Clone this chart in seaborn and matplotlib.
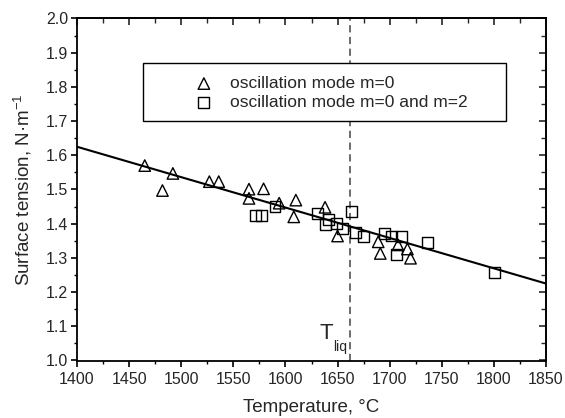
import matplotlib
matplotlib.use("Agg")
import matplotlib.pyplot as plt
import seaborn as sns
import pandas as pd
from matplotlib.ticker import MultipleLocator
from matplotlib.patches import Rectangle

# ---- data ----
tri_T = [1465, 1482, 1492, 1527, 1536, 1565, 1565, 1579, 1594, 1608, 1610,
         1638, 1650, 1689, 1691, 1708, 1717, 1720]
tri_s = [1.570, 1.497, 1.547, 1.523, 1.523, 1.501, 1.474, 1.502, 1.460, 1.420, 1.469,
         1.448, 1.364, 1.347, 1.313, 1.338, 1.326, 1.299]
sq_T = [1571, 1577, 1590, 1631, 1638, 1641, 1649, 1655, 1663, 1667, 1675,
        1695, 1702, 1707, 1711, 1736, 1801]
sq_s = [1.423, 1.425, 1.450, 1.430, 1.399, 1.413, 1.401, 1.386, 1.435, 1.374, 1.362,
        1.372, 1.364, 1.311, 1.362, 1.346, 1.257]
fit_T = [1400, 1850]
fit_s = [1.625, 1.225]
T_liq = 1662
x_ticks = [1400, 1450, 1500, 1550, 1600, 1650, 1700, 1750, 1800, 1850]
y_ticks = [1.0, 1.1, 1.2, 1.3, 1.4, 1.5, 1.6, 1.7, 1.8, 1.9, 2.0]

sns.set_style("white")
plt.rcParams['font.family'] = ['Liberation Sans', 'DejaVu Sans']
plt.rcParams['mathtext.fontset'] = 'custom'
plt.rcParams['mathtext.rm'] = 'Liberation Sans'
plt.rcParams['mathtext.it'] = 'Liberation Sans'

fig = plt.figure(figsize=(5.65, 4.18), dpi=100)
ax = fig.add_axes([77/565, 1 - 360.5/418, 469/565, 342/418])

df_fit = pd.DataFrame({"T": fit_T, "s": fit_s})
sns.lineplot(data=df_fit, x="T", y="s", ax=ax, color="black", lw=1.5, zorder=2)

ax.axvline(T_liq, color="#606060", lw=1.3, ls=(0, (4, 2.5)), zorder=1)

df_tri = pd.DataFrame({"T": tri_T, "s": tri_s})
df_sq = pd.DataFrame({"T": sq_T, "s": sq_s})
sns.scatterplot(data=df_tri, x="T", y="s", ax=ax, marker="^", s=68,
                facecolors="none", edgecolor="black", linewidth=1.0,
                label="oscillation mode m=0", zorder=3)
sns.scatterplot(data=df_sq, x="T", y="s", ax=ax, marker="s", s=62,
                facecolors="none", edgecolor="black", linewidth=1.0,
                label="oscillation mode m=0 and m=2", zorder=3)

ax.set_xlim(1400, 1850)
ax.set_ylim(1.0, 2.0)
ax.set_xticks(x_ticks)
ax.set_yticks(y_ticks)
ax.set_xticklabels([str(v) for v in x_ticks])
ax.set_yticklabels([f"{v:.1f}" for v in y_ticks])
ax.xaxis.set_minor_locator(MultipleLocator(25))
ax.yaxis.set_minor_locator(MultipleLocator(0.05))

for sp in ax.spines.values():
    sp.set_visible(True)
    sp.set_color("black")
    sp.set_linewidth(1.3)

ax.tick_params(axis="both", which="major", direction="out", length=4, width=1.2,
               labelsize=11.5, pad=4, color="black")
ax.tick_params(axis="y", which="major", pad=2.5)
ax.tick_params(axis="both", which="minor", direction="out", length=2.5, width=1.0,
               color="black")
ax.tick_params(axis="both", which="both", bottom=True, left=True)

# top and right inward ticks
axt = ax.secondary_xaxis("top")
axt.set_xticks(x_ticks)
axt.xaxis.set_minor_locator(MultipleLocator(25))
axt.tick_params(which="major", direction="in", length=5, width=1.2, labeltop=False)
axt.tick_params(which="minor", direction="in", length=3.5, width=1.0)
axt.spines["top"].set_linewidth(1.3)
axr = ax.secondary_yaxis("right")
axr.set_yticks(y_ticks)
axr.yaxis.set_minor_locator(MultipleLocator(0.05))
axr.tick_params(which="major", direction="in", length=5, width=1.2, labelright=False)
axr.tick_params(which="minor", direction="in", length=3.5, width=1.0)
axr.spines["right"].set_linewidth(1.3)

ax.set_xlabel("Temperature, °C", fontsize=13.5, labelpad=9)
ax.set_ylabel(r"Surface tension, N·m$^{-1}$", fontsize=13.5, labelpad=8)

ax.text(1645.5, 1.063, "T", fontsize=16, ha="right", va="baseline")
ax.text(1646, 1.028, "liq", fontsize=10, ha="left", va="baseline")

ax.add_patch(Rectangle((0.1407, 0.7003), 0.774, 0.1696, transform=ax.transAxes,
                       facecolor="white", edgecolor="black", linewidth=1.0, zorder=4))
leg = ax.legend(loc="upper left", bbox_to_anchor=(0.252, 0.832),
                frameon=False, fontsize=12.5,
                borderpad=0, handletextpad=1.0, labelspacing=0.2,
                borderaxespad=0, handlelength=1.0)
leg.set_zorder(5)

fig.savefig("out.png", dpi=100)
